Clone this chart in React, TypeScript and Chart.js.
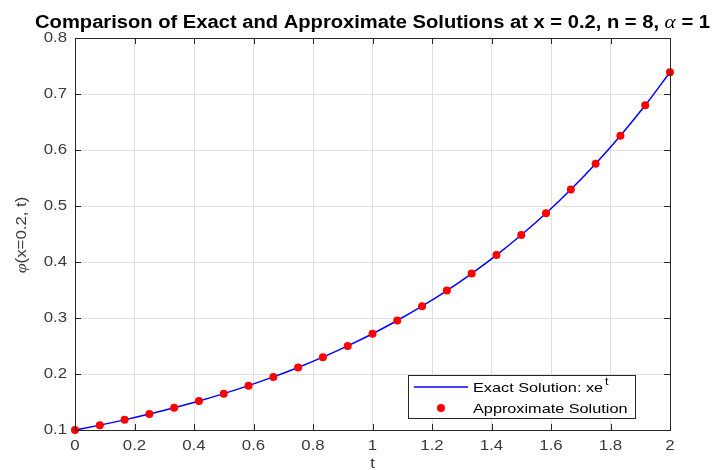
import React, { useEffect, useRef } from "react";
import { Chart, registerables } from "chart.js";

Chart.register(...registerables);

const tValues = [0, 0.0833, 0.1667, 0.25, 0.3333, 0.4167, 0.5, 0.5833, 0.6667, 0.75, 0.8333, 0.9167, 1, 1.0833, 1.1667, 1.25, 1.3333, 1.4167, 1.5, 1.5833, 1.6667, 1.75, 1.8333, 1.9167, 2];
const exactValues = [0.1, 0.1087, 0.1181, 0.1284, 0.1396, 0.1517, 0.1649, 0.1792, 0.1948, 0.2117, 0.2301, 0.2501, 0.2718, 0.2955, 0.3211, 0.349, 0.3794, 0.4123, 0.4482, 0.4871, 0.5295, 0.5755, 0.6255, 0.6798, 0.7389];
const approxValues = [0.1, 0.1087, 0.1181, 0.1284, 0.1396, 0.1517, 0.1649, 0.1792, 0.1948, 0.2117, 0.2301, 0.2501, 0.2718, 0.2955, 0.3211, 0.349, 0.3794, 0.4123, 0.4482, 0.4871, 0.5295, 0.5755, 0.6255, 0.6798, 0.7389];
const xTicks = [0, 0.2, 0.4, 0.6, 0.8, 1, 1.2, 1.4, 1.6, 1.8, 2];
const xTickLabels = ["0", "0.2", "0.4", "0.6", "0.8", "1", "1.2", "1.4", "1.6", "1.8", "2"];
const yTicks = [0.1, 0.2, 0.3, 0.4, 0.5, 0.6, 0.7, 0.8];
const yTickLabels = ["0.1", "0.2", "0.3", "0.4", "0.5", "0.6", "0.7", "0.8"];

const titleMain = "Comparison of Exact and Approximate Solutions at x = 0.2, n = 8, ";
const titleGreek = "\u03B1";
const titleEnd = " = 1";
const yLabelGreek = "\u03C6";
const yLabelRest = "(x=0.2, t)";
const xLabel = "t";
const legendExact = "Exact Solution: xe";
const legendExactSup = "t";
const legendApprox = "Approximate Solution";

const SANS = "Arial, 'Liberation Sans', Helvetica, sans-serif";
const SERIF = "'Times New Roman', 'Liberation Serif', serif";
const TICK_COLOR = "#3a3a3a";
const TEXT_STRETCH = 1.2;

function stretchedText(ctx: CanvasRenderingContext2D, text: string, x: number, y: number, font: string, sx: number, align: CanvasTextAlign, baseline: CanvasTextBaseline) {
  ctx.save();
  ctx.font = font;
  ctx.textAlign = align;
  ctx.textBaseline = baseline;
  ctx.translate(x, y);
  ctx.scale(sx, 1);
  ctx.fillText(text, 0, 0);
  ctx.restore();
}

function measureStretched(ctx: CanvasRenderingContext2D, text: string, font: string, sx: number) {
  ctx.save();
  ctx.font = font;
  const w = ctx.measureText(text).width * sx;
  ctx.restore();
  return w;
}

const decorPlugin = {
  id: "decor",
  afterDraw(chart: any) {
    const ctx = chart.ctx as CanvasRenderingContext2D;
    const a = chart.chartArea;
    const xs = chart.scales.x;
    const ys = chart.scales.y;
    ctx.save();
    // box
    ctx.strokeStyle = "#262626";
    ctx.lineWidth = 1;
    ctx.strokeRect(Math.round(a.left) + 0.5, Math.round(a.top) + 0.5, Math.round(a.right - a.left), Math.round(a.bottom - a.top));
    // inward ticks
    ctx.beginPath();
    const tl = 6;
    xTicks.forEach((v) => {
      const px = Math.round(xs.getPixelForValue(v)) + 0.5;
      ctx.moveTo(px, a.bottom);
      ctx.lineTo(px, a.bottom - tl);
      ctx.moveTo(px, a.top);
      ctx.lineTo(px, a.top + tl);
    });
    yTicks.forEach((v) => {
      const py = Math.round(ys.getPixelForValue(v)) + 0.5;
      ctx.moveTo(a.left, py);
      ctx.lineTo(a.left + tl, py);
      ctx.moveTo(a.right, py);
      ctx.lineTo(a.right - tl, py);
    });
    ctx.stroke();

    // tick labels
    ctx.fillStyle = TICK_COLOR;
    const tickFont = `14px ${SANS}`;
    xTicks.forEach((v, i) => {
      stretchedText(ctx, xTickLabels[i], xs.getPixelForValue(v), 446, tickFont, TEXT_STRETCH, "center", "middle");
    });
    yTicks.forEach((v, i) => {
      stretchedText(ctx, yTickLabels[i], 67, ys.getPixelForValue(v), tickFont, TEXT_STRETCH, "right", "middle");
    });

    // title
    ctx.fillStyle = "#000";
    const tsx = 1.12;
    const fBold = `bold 18px ${SANS}`;
    const fGreek = `italic 19px ${SERIF}`;
    const w1 = measureStretched(ctx, titleMain, fBold, tsx);
    const w2 = measureStretched(ctx, titleGreek, fGreek, tsx);
    const w3 = measureStretched(ctx, titleEnd, fBold, tsx);
    let tx = (a.left + a.right) / 2 - (w1 + w2 + w3) / 2;
    const ty = 28;
    stretchedText(ctx, titleMain, tx, ty, fBold, tsx, "left", "alphabetic");
    tx += w1;
    stretchedText(ctx, titleGreek, tx, ty, fGreek, tsx, "left", "alphabetic");
    tx += w2;
    stretchedText(ctx, titleEnd, tx, ty, fBold, tsx, "left", "alphabetic");

    // y label
    ctx.save();
    ctx.translate(26, 235);
    ctx.rotate(-Math.PI / 2);
    ctx.fillStyle = TICK_COLOR;
    const fy = `14px ${SANS}`;
    const fyg = `italic 15px ${SERIF}`;
    const gw = measureStretched(ctx, yLabelGreek, fyg, TEXT_STRETCH);
    const rw = measureStretched(ctx, yLabelRest, fy, TEXT_STRETCH);
    let lx = -(gw + rw) / 2;
    stretchedText(ctx, yLabelGreek, lx, 0, fyg, TEXT_STRETCH, "left", "alphabetic");
    lx += gw;
    stretchedText(ctx, yLabelRest, lx, 0, fy, TEXT_STRETCH, "left", "alphabetic");
    ctx.restore();

    // x label
    ctx.fillStyle = TICK_COLOR;
    stretchedText(ctx, xLabel, (a.left + a.right) / 2, 468, `14px ${SANS}`, TEXT_STRETCH, "center", "alphabetic");

    // legend
    const lx0 = 408, ly0 = 375, lw = 227, lh = 43;
    ctx.fillStyle = "#fff";
    ctx.fillRect(lx0, ly0, lw, lh);
    ctx.strokeStyle = "#262626";
    ctx.lineWidth = 1;
    ctx.strokeRect(lx0 + 0.5, ly0 + 0.5, lw, lh);
    ctx.strokeStyle = "#0000ff";
    ctx.lineWidth = 1.5;
    ctx.beginPath();
    ctx.moveTo(414, 387);
    ctx.lineTo(468, 387);
    ctx.stroke();
    ctx.fillStyle = "#ff0000";
    ctx.beginPath();
    ctx.arc(441, 408, 4, 0, Math.PI * 2);
    ctx.fill();
    ctx.fillStyle = "#000";
    const lf = `13px ${SANS}`;
    const lsx = 1.25;
    stretchedText(ctx, legendExact, 473, 392, lf, lsx, "left", "alphabetic");
    const ew = measureStretched(ctx, legendExact, lf, lsx);
    stretchedText(ctx, legendExactSup, 473 + ew + 2, 385, `10px ${SANS}`, lsx, "left", "alphabetic");
    stretchedText(ctx, legendApprox, 473, 413, lf, lsx, "left", "alphabetic");
    ctx.restore();
  },
};

export default function App() {
  const ref = useRef<HTMLCanvasElement | null>(null);
  useEffect(() => {
    if (!ref.current) return;
    const chart = new Chart(ref.current, {
      type: "line",
      data: {
        datasets: [
          {
            label: "Exact Solution",
            data: tValues.map((t, i) => ({ x: t, y: exactValues[i] })),
            borderColor: "#0000ff",
            borderWidth: 1.5,
            pointRadius: 0,
            cubicInterpolationMode: "monotone",
            fill: false,
            clip: false,
            order: 2,
          },
          {
            label: "Approximate Solution",
            data: tValues.map((t, i) => ({ x: t, y: approxValues[i] })),
            showLine: false,
            pointRadius: 4,
            pointBackgroundColor: "#ff0000",
            pointBorderColor: "#ff0000",
            pointBorderWidth: 0,
            clip: false,
            order: 1,
          },
        ],
      },
      options: {
        animation: false,
        responsive: false,
        devicePixelRatio: 1,
        layout: { padding: { top: 38, right: 42, left: 0, bottom: 0 } },
        plugins: { legend: { display: false }, title: { display: false }, tooltip: { enabled: false } },
        scales: {
          x: {
            type: "linear",
            min: 0,
            max: 2,
            afterBuildTicks: (s: any) => { s.ticks = xTicks.map((v) => ({ value: v })); },
            afterFit: (s: any) => { s.height = 40; },
            border: { display: false },
            grid: { color: "#dfdfdf", drawTicks: false, lineWidth: 1 },
            ticks: { display: false },
          },
          y: {
            type: "linear",
            min: 0.1,
            max: 0.8,
            afterBuildTicks: (s: any) => { s.ticks = yTicks.map((v) => ({ value: v })); },
            afterFit: (s: any) => { s.width = 75; },
            border: { display: false },
            grid: { color: "#dfdfdf", drawTicks: false, lineWidth: 1 },
            ticks: { display: false },
          },
        },
      },
      plugins: [decorPlugin],
    } as any);
    return () => chart.destroy();
  }, []);
  return (
    <div style={{ position: "fixed", left: 0, top: 0, width: 712, height: 470, background: "#fff" }}>
      <canvas ref={ref} width={712} height={470} style={{ width: 712, height: 470 }} />
    </div>
  );
}
